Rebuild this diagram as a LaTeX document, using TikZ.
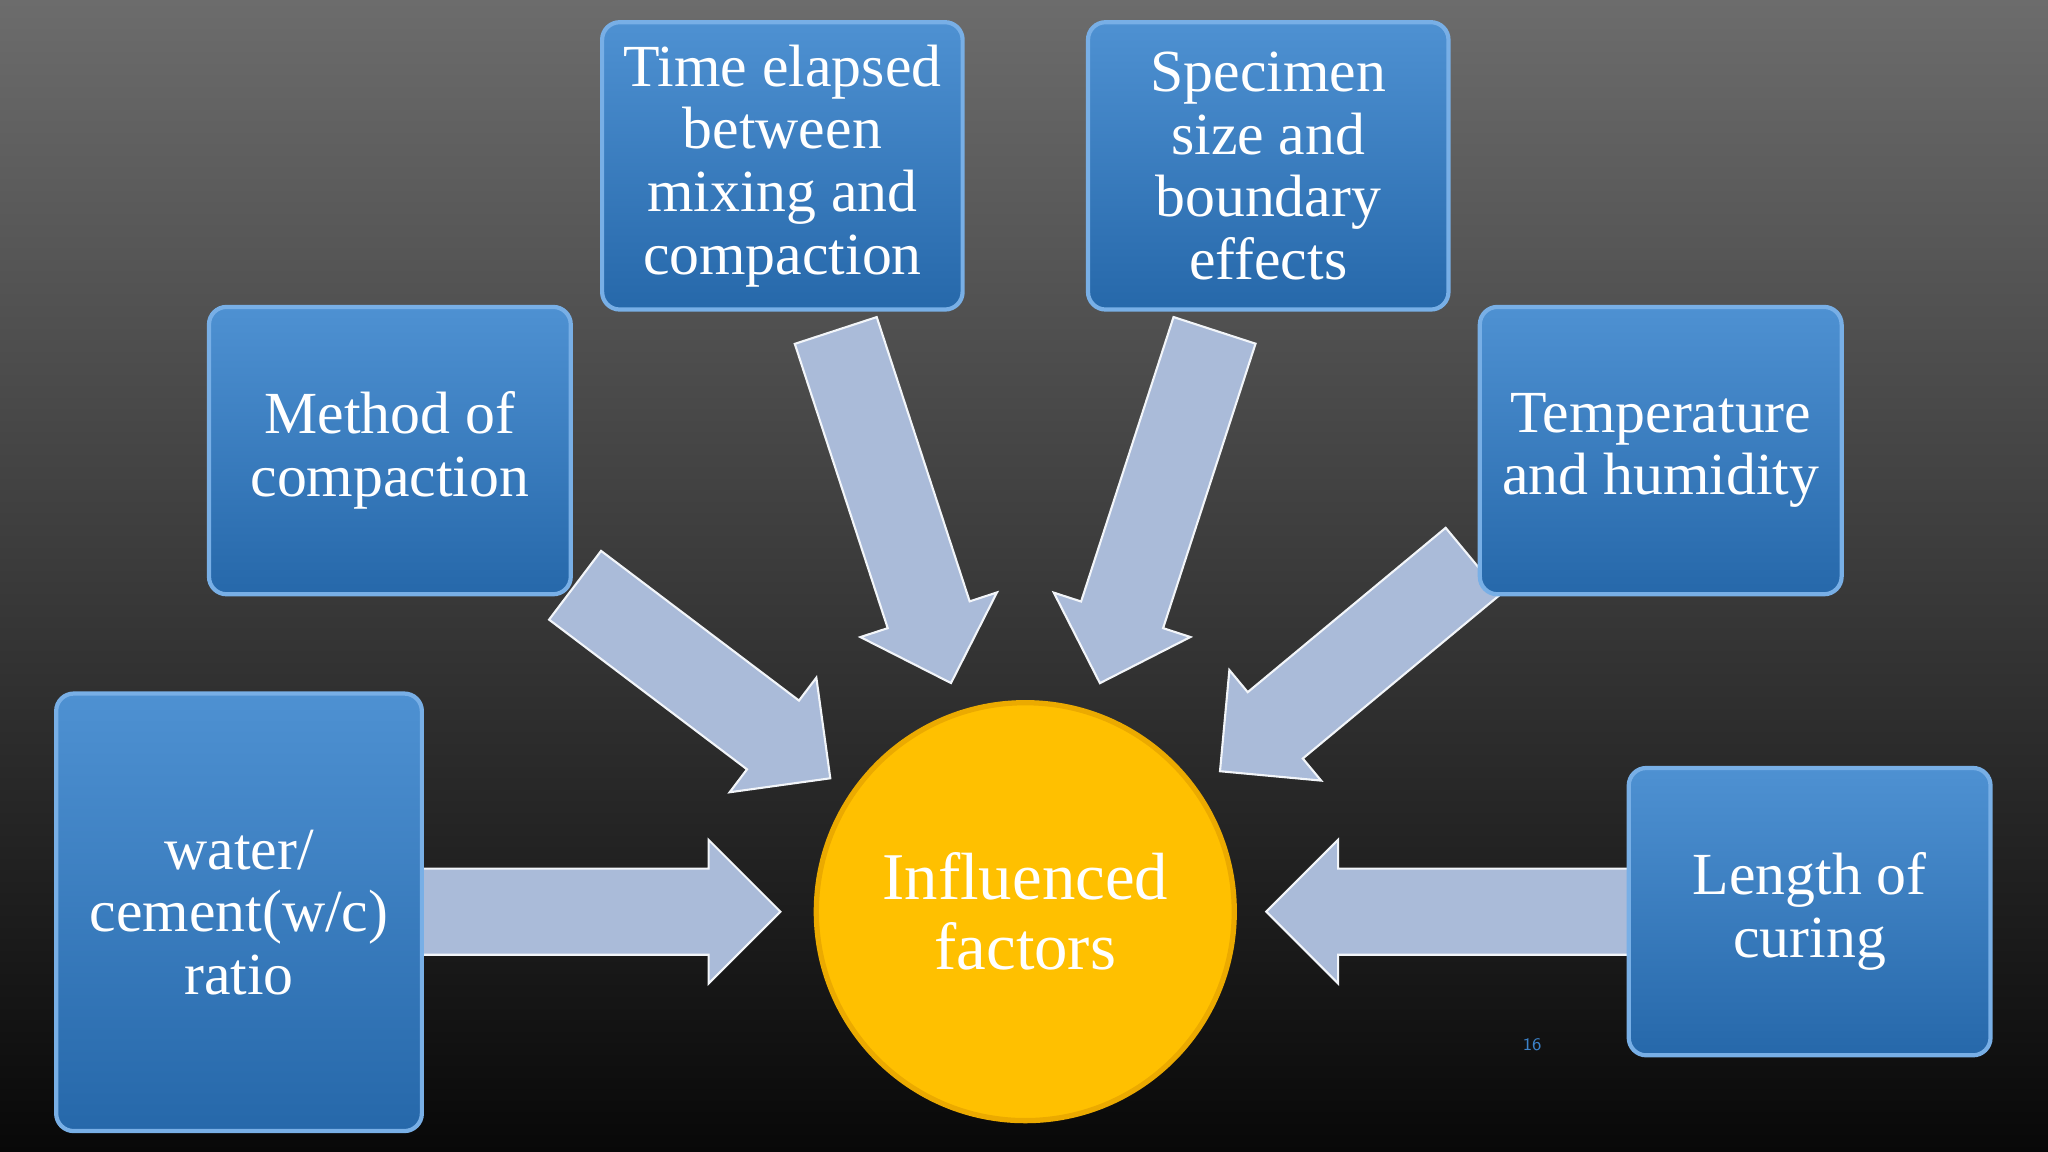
\documentclass[tikz,border=0pt]{standalone}
\usepackage{fontspec}
\setmainfont{Liberation Serif}
\definecolor{arrowc}{RGB}{170,187,217}
\definecolor{boxtop}{RGB}{78,145,210}
\definecolor{boxbot}{RGB}{38,104,170}
\definecolor{boxedge}{RGB}{120,175,230}
\definecolor{gold}{RGB}{255,192,0}
\definecolor{goldedge}{RGB}{235,170,0}
\definecolor{pagenum}{RGB}{60,130,200}
\def\U{0.013061cm}
\begin{document}
\begin{tikzpicture}[x=0.013061cm,y=0.013061cm,
  box/.style={draw=boxedge,line width=1.2pt,rounded corners=5pt,top color=boxtop,bottom color=boxbot},
  lbl/.style={text=white,align=center,font=\fontsize{17}{17.8}\selectfont},
  arr/.style={fill=arrowc,draw=white!85!arrowc,line width=0.6pt}]
\shade[top color={rgb,255:red,108;green,108;blue,108},middle color={rgb,255:red,28;green,28;blue,28},bottom color={rgb,255:red,8;green,8;blue,8}] (0,0) rectangle (1568,882);
\useasboundingbox (0,0) rectangle (1568,882);
\newcommand{\blockarrow}[4]{%
  \draw[arr,shift={(#1,#2)},rotate=#3] (-#4/2,-33) -- (#4/2-55,-33) -- (#4/2-55,-55) -- (#4/2,0) -- (#4/2-55,55) -- (#4/2-55,33) -- (-#4/2,33) -- cycle;}
\blockarrow{538}{360}{-37.1}{245}
\blockarrow{684}{494}{-71.9}{284}
\blockarrow{886}{494}{-108}{284}
\blockarrow{1031}{372}{-140.3}{252}
\blockarrow{460}{184}{0}{275}
\blockarrow{1108}{184}{180}{277}
\node[box,minimum width=280*\U,minimum height=335*\U] (water) at (183,183.5) {};
\node[lbl] at (water) {water/\\cement(w/c)\\ratio};
\node[box,minimum width=277*\U,minimum height=220*\U] (method) at (298.5,537) {};
\node[lbl] at (method) {Method of\\compaction};
\node[box,minimum width=276*\U,minimum height=220*\U] (time) at (599,755) {};
\node[lbl] at (time) {Time elapsed\\between\\mixing and\\compaction};
\node[box,minimum width=276*\U,minimum height=220*\U] (spec) at (971,755) {};
\node[lbl] at (spec) {Specimen\\size and\\boundary\\effects};
\node[box,minimum width=277*\U,minimum height=220*\U] (temp) at (1271.5,537) {};
\node[lbl] at (temp) {Temperature\\and humidity};
\node[box,minimum width=277*\U,minimum height=220*\U] (length) at (1385.5,184) {};
\node[lbl] at (length) {Length of\\curing};
\node[circle,minimum size=320*\U,fill=gold,draw=goldedge,line width=1.5pt,text=white,align=center,font=\fontsize{19}{20}\selectfont] (inf) at (785,184) {Influenced\\factors};
\node[text=pagenum,font=\fontsize{5}{6}\sffamily] (pg) at (1173,82) {16};
\end{tikzpicture}
\end{document}
